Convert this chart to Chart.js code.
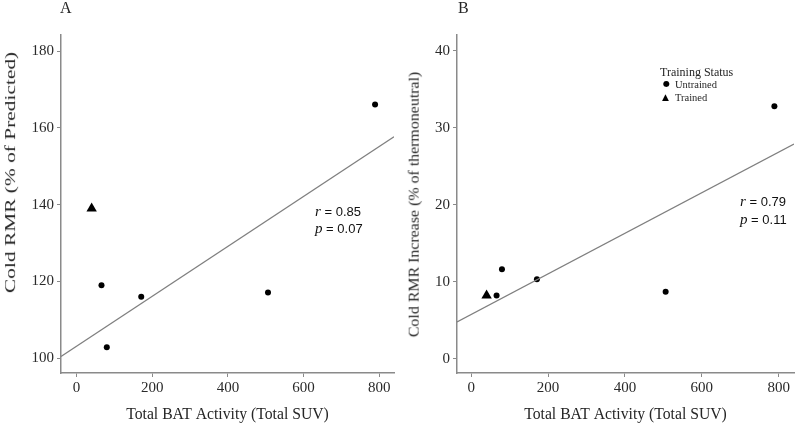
<!DOCTYPE html>
<html>
<head>
<meta charset="utf-8">
<script src="https://cdn.jsdelivr.net/npm/chart.js@4.4.1/dist/chart.umd.min.js"></script>
<style>
  body { margin: 0; background: #fff; }
  #wrap { position: relative; width: 800px; height: 425px; font-family: "Liberation Serif", serif; color: #262626; }
  canvas { position: absolute; top: 0; }
  .txt { position: absolute; white-space: nowrap; line-height: 1; }
  .stat { position: absolute; white-space: nowrap; line-height: 1; font-size: 13px; color: #111; font-family: "Liberation Sans", sans-serif; }
  .stat i { font-family: "Liberation Serif", serif; font-size: 15px; }
  .ytitle { position: absolute; white-space: nowrap; font-size: 15px; line-height: 1; transform-origin: center center; }
</style>
</head>
<body>
<div id="wrap">
  <canvas id="chartA" width="400" height="425" style="left:0"></canvas>
  <canvas id="chartB" width="400" height="425" style="left:400px"></canvas>

  <div class="txt" style="left:60px;top:0px;font-size:16px;">A</div>
  <div class="txt" style="left:458px;top:0px;font-size:16px;">B</div>

  <div class="ytitle" id="ytA">Cold RMR (% of Predicted)</div>
  <div class="ytitle" id="ytB">Cold RMR Increase (% of thermoneutral)</div>

  <div class="stat" style="left:315px;top:204px;"><i>r</i> = 0.85</div>
  <div class="stat" style="left:315px;top:221px;"><i>p</i> = 0.07</div>
  <div class="stat" style="left:740px;top:194px;"><i>r</i> = 0.79</div>
  <div class="stat" style="left:740px;top:212px;"><i>p</i> = 0.11</div>

  <div class="txt" style="left:660px;top:66px;font-size:12px;">Training Status</div>
  <div class="txt" style="left:663px;top:80px;font-size:8px;font-family:'DejaVu Sans';color:#000;">&#9679;</div>
  <div class="txt" style="left:675px;top:80px;font-size:10.5px;">Untrained</div>
  <div class="txt" style="left:662px;top:93px;font-size:9px;font-family:'DejaVu Sans';color:#000;">&#9650;</div>
  <div class="txt" style="left:675px;top:93px;font-size:10.5px;">Trained</div>
</div>

<script>
// Total BAT activity (Total SUV)
var trainedBat = [40];
var untrainedBat = [66, 80, 171, 506, 789];

// Panel A: cold RMR (% of predicted)
var trainedRmrA = [139];
var untrainedRmrA = [119, 102.8, 116, 117.1, 166.1];

// Panel B: cold RMR increase (% of thermoneutral)
var trainedRmrB = [8.2];
var untrainedRmrB = [8.2, 11.6, 10.3, 8.7, 32.8];

// fitted lines (end points as drawn)
var fitXA = [-41, 839];
var fitYA = [100.4, 157.7];
var fitXB = [-37, 840];
var fitYB = [4.76, 27.87];

var xTicks = [0, 200, 400, 600, 800];
var yTicksA = [100, 120, 140, 160, 180];
var yTicksB = [0, 10, 20, 30, 40];

function pts(xs, ys) {
	return xs.map(function (x, i) { return { x: x, y: ys[i] }; });
}

var tickFont = { family: "Liberation Serif", size: 15 };
var axisGrey = "#8a8a8a";

function makeScales(xMin, xMax, yMin, yMax, yTicks, yWidth) {
	return {
		x: {
			type: "linear",
			min: xMin,
			max: xMax,
			afterBuildTicks: function (s) { s.ticks = xTicks.map(function (v) { return { value: v }; }); },
			afterFit: function (s) { s.height = 52; },
			grid: { drawOnChartArea: false, drawTicks: true, tickLength: 4, color: axisGrey, lineWidth: 1 },
			border: { color: axisGrey, width: 1.5 },
			ticks: { font: tickFont, color: "#2a2a2a", padding: 2, maxRotation: 0 },
			title: {
				display: true,
				text: "Total BAT Activity (Total SUV)",
				font: { family: "Liberation Serif", size: 15.7 },
				color: "#262626",
				padding: { top: 0, bottom: 1 }
			}
		},
		y: {
			type: "linear",
			min: yMin,
			max: yMax,
			afterBuildTicks: function (s) { s.ticks = yTicks.map(function (v) { return { value: v }; }); },
			afterFit: function (s) { s.width = yWidth; },
			grid: { drawOnChartArea: false, drawTicks: true, tickLength: 4, color: axisGrey, lineWidth: 1 },
			border: { color: axisGrey, width: 1.5 },
			ticks: { font: tickFont, color: "#2a2a2a", padding: 3 }
		}
	};
}

function makeData(trainedY, untrainedY, fx, fy) {
	return {
		datasets: [
			{
				label: "fit",
				data: pts(fx, fy),
				showLine: true,
				borderColor: "#7f7f7f",
				borderWidth: 1.3,
				pointRadius: 0
			},
			{
				label: "Untrained",
				data: pts(untrainedBat, untrainedY),
				pointStyle: "circle",
				pointRadius: 3,
				backgroundColor: "#000",
				borderColor: "#000",
				borderWidth: 0
			},
			{
				label: "Trained",
				data: pts(trainedBat, trainedY),
				pointStyle: "triangle",
				pointRadius: 6,
				backgroundColor: "#000",
				borderColor: "#000",
				borderWidth: 0
			}
		]
	};
}

var commonPlugins = {
	legend: { display: false },
	title: { display: false },
	tooltip: { enabled: false }
};

var chartA = new Chart(document.getElementById("chartA"), {
	type: "scatter",
	data: makeData(trainedRmrA, untrainedRmrA, fitXA, fitYA),
	options: {
		responsive: false,
		animation: false,
		devicePixelRatio: 1,
		layout: { padding: { left: 0, right: 6, top: 35, bottom: 0 } },
		plugins: commonPlugins,
		scales: makeScales(-41, 839, 96.1, 184.2, yTicksA, 61)
	}
});

var chartB = new Chart(document.getElementById("chartB"), {
	type: "scatter",
	data: makeData(trainedRmrB, untrainedRmrB, fitXB, fitYB),
	options: {
		responsive: false,
		animation: false,
		devicePixelRatio: 1,
		layout: { padding: { left: 0, right: 1, top: 35, bottom: 0 } },
		plugins: commonPlugins,
		scales: makeScales(-37, 840, -1.87, 42.04, yTicksB, 57)
	}
});

// rotated y-axis titles, stretched to the length seen in the figure
function placeTitle(id, cx, cy, len) {
	var el = document.getElementById(id);
	var w = el.offsetWidth, h = el.offsetHeight;
	el.style.left = (cx - w / 2) + "px";
	el.style.top = (cy - h / 2) + "px";
	el.style.transform = "rotate(-90deg) scaleX(" + (len / w) + ")";
}
placeTitle("ytA", 10, 172.5, 241);
placeTitle("ytB", 414, 204.5, 265);
</script>
</body>
</html>
